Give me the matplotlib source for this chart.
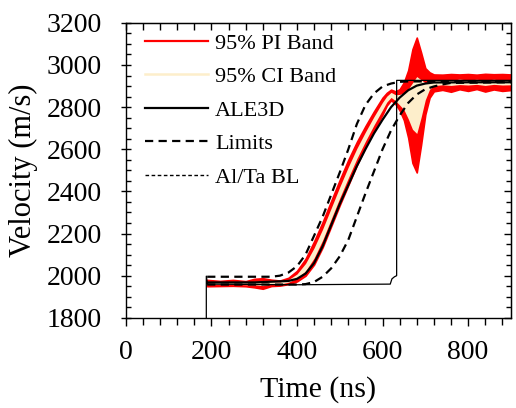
import numpy as np
import matplotlib.pyplot as plt
from matplotlib.lines import Line2D
from matplotlib.ticker import MultipleLocator

plt.rcParams['font.family'] = ['Liberation Serif', 'DejaVu Serif']

# --- data ---
# experimental band (mean with 95% PI / CI half-widths)
t_band = [190, 220, 250, 280, 300, 320, 340, 360, 380, 400, 420, 440, 460, 480,
          500, 520, 540, 560, 580, 600, 610, 620, 630, 640, 650, 660, 670, 680,
          690, 700, 710, 720, 740, 760, 780, 800, 820, 840, 860, 880, 900]
band_mid = [1965, 1963, 1966, 1962, 1965, 1963, 1966, 1965, 1975, 1998, 2040, 2108,
            2195, 2295, 2395, 2490, 2580, 2660, 2735, 2805, 2838, 2858, 2845, 2835,
            2828, 2815, 2805, 2810, 2840, 2875, 2905, 2915, 2918, 2915, 2920, 2917,
            2920, 2916, 2920, 2917, 2918]
pi_half = [15, 12, 14, 12, 20, 25, 15, 12, 15, 25, 40, 55, 60, 60, 60, 60, 55, 50,
           45, 40, 30, 25, 30, 50, 90, 160, 270, 320, 220, 110, 60, 40, 36, 42, 35,
           40, 34, 42, 36, 40, 37]
ci_half = [6, 5, 6, 5, 8, 10, 6, 5, 6, 10, 18, 24, 26, 26, 26, 26, 24, 22, 20, 18,
           14, 12, 14, 25, 40, 70, 110, 135, 90, 40, 20, 13, 12, 12, 13, 12, 12, 13,
           12, 12, 12]

# ALE3D simulation
t_ale = [190, 300, 380, 400, 420, 440, 460, 480, 500, 520, 540, 560, 580, 600,
         620, 640, 660, 680, 700, 720, 800, 900]
v_ale = [1968, 1968, 1975, 1985, 2010, 2060, 2140, 2240, 2340, 2430, 2520, 2600,
         2675, 2740, 2800, 2845, 2880, 2902, 2912, 2917, 2918, 2918]

# limits
t_lim = [190, 340, 360, 380, 400, 420, 440, 460, 480, 500, 520, 540, 560, 580,
         600, 620, 640, 660, 680, 700, 720, 740, 760, 900]
v_lim_hi = [1995, 1995, 2000, 2015, 2045, 2100, 2190, 2280, 2385, 2490, 2600, 2720,
            2810, 2865, 2898, 2912, 2920, 2922, 2922, 2922, 2922, 2922, 2922, 2922]
v_lim_lo = [1958, 1958, 1958, 1958, 1958, 1960, 1970, 1995, 2035, 2092, 2170, 2280,
            2390, 2495, 2600, 2690, 2760, 2820, 2860, 2885, 2898, 2908, 2915, 2918]

# Al/Ta boundary layer step trace
t_bl = [188, 188, 191, 400, 618, 622, 628, 633, 633, 900]
v_bl = [1790, 1998, 1960, 1957, 1960, 1985, 1995, 2000, 2927, 2927]

t_band = np.array(t_band)
band_mid = np.array(band_mid)
pi_half = np.array(pi_half)
ci_half = np.array(ci_half)

fig = plt.figure(figsize=(5.16, 4.08), dpi=100)
ax = fig.add_axes([0.244, 0.221, 0.746, 0.723])

red = '#ff0000'
cream = '#fdeecb'
dash = (0, (3.7, 2.4))

ax.fill_between(t_band, band_mid - pi_half, band_mid + pi_half, color=red, lw=1.2,
                edgecolor=red, zorder=1)
ax.fill_between(t_band, band_mid - ci_half, band_mid + ci_half, color=cream, lw=0,
                zorder=2)
ax.plot(t_bl, v_bl, color='k', lw=0.9, zorder=3)
ax.plot(t_lim, v_lim_hi, color='k', lw=1.6, ls=dash, zorder=4)
ax.plot(t_lim, v_lim_lo, color='k', lw=1.6, ls=dash, zorder=4)
ax.plot(t_ale, v_ale, color='k', lw=1.6, zorder=5)

handles = [
    Line2D([], [], color=red, lw=1.6),
    Line2D([], [], color=cream, lw=1.8),
    Line2D([], [], color='k', lw=1.6),
    Line2D([], [], color='k', lw=1.6, ls=dash),
    Line2D([], [], color='k', lw=1.0, ls=(0, (2.6, 1.8))),
]
labels = ['95% PI Band', '95% CI Band', 'ALE3D', 'Limits', 'Al/Ta BL']
ax.legend(handles, labels, loc='upper left', frameon=False, fontsize=16,
          handlelength=2.85, handletextpad=0.32, labelspacing=0.58,
          borderaxespad=0.0, bbox_to_anchor=(0.026, 0.995))

ax.set_xlim(0, 900)
ax.set_ylim(1800, 3200)
ax.xaxis.set_major_locator(MultipleLocator(200))
ax.xaxis.set_minor_locator(MultipleLocator(40))
ax.yaxis.set_major_locator(MultipleLocator(200))
ax.yaxis.set_minor_locator(MultipleLocator(50))

# bottom ticks point out, left major ticks cross the spine
ax.tick_params(axis='x', which='major', direction='out', length=6, width=1,
               labelsize=20, pad=10)
ax.tick_params(axis='x', which='minor', direction='out', length=4.8, width=1)
ax.tick_params(axis='y', which='major', direction='inout', length=7, width=1,
               labelsize=20, pad=14)
ax.tick_params(axis='y', which='minor', direction='in', length=3.6, width=1)

# top and right ticks point in
top = ax.secondary_xaxis('top')
top.xaxis.set_major_locator(MultipleLocator(200))
top.xaxis.set_minor_locator(MultipleLocator(40))
top.tick_params(which='major', direction='in', length=4.8, width=1, labeltop=False)
top.tick_params(which='minor', direction='in', length=4.8, width=1)
right = ax.secondary_yaxis('right')
right.yaxis.set_major_locator(MultipleLocator(200))
right.yaxis.set_minor_locator(MultipleLocator(50))
right.tick_params(which='major', direction='in', length=4.8, width=1, labelright=False)
right.tick_params(which='minor', direction='in', length=3.6, width=1)

for s in ax.spines.values():
    s.set_linewidth(1.0)

ax.set_xlabel('Time (ns)', fontsize=21.5, labelpad=8)
ax.set_ylabel('Velocity (m/s)', fontsize=22, labelpad=6)

fig.savefig('out.png', dpi=100)
